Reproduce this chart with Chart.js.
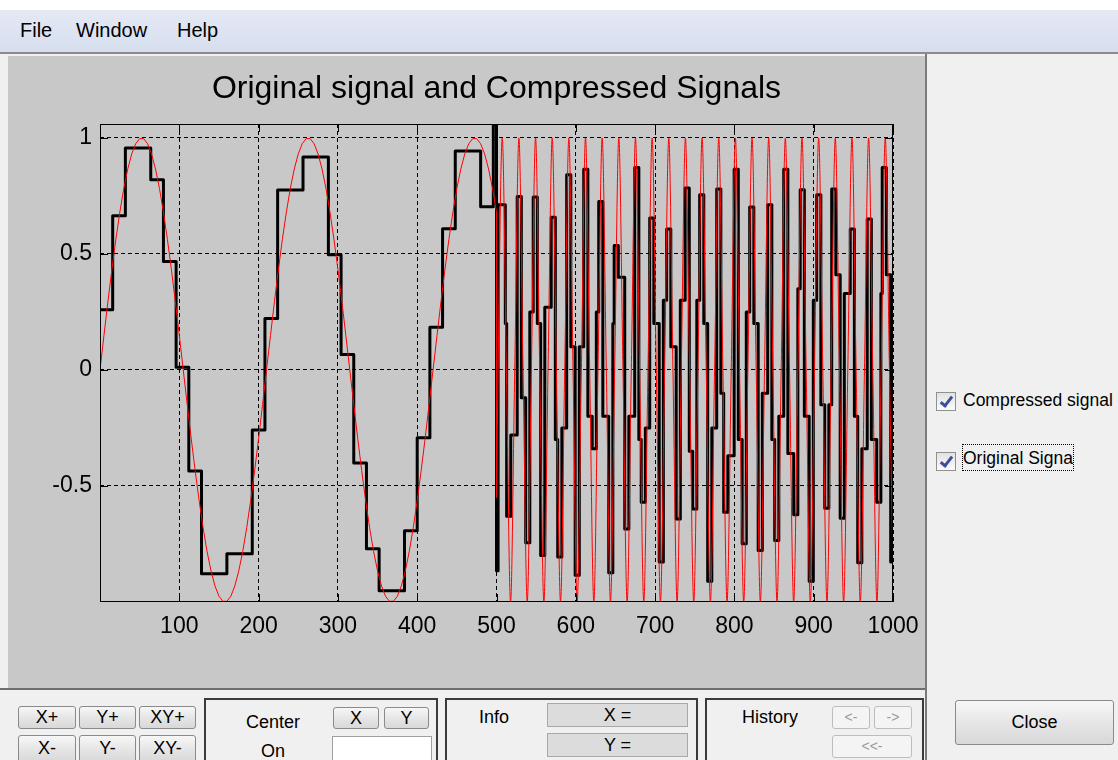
<!DOCTYPE html>
<html><head><meta charset="utf-8">
<script src="https://cdn.jsdelivr.net/npm/chart.js@4"></script>
<style>
html,body{margin:0;padding:0;}
body{width:1118px;height:760px;overflow:hidden;background:#f0f0f0;position:relative;font-family:'Liberation Sans',Arial,sans-serif;color:#000;}
.a{position:absolute;}
#topstrip{left:0;top:0;width:1118px;height:10px;background:#fff;}
#menubar{left:0;top:10px;width:1118px;height:42px;background:linear-gradient(#e4e9f4,#d6deee);border-bottom:2px solid #8c8c8c;}
.menu{position:absolute;top:10px;height:42px;line-height:40px;font-size:20px;}
#fig{left:8px;top:56px;width:917px;height:632px;background:#c8c8c8;}
#vline{left:925px;top:54px;width:2px;height:706px;background:#7a7a7a;}
#bottom{left:0;top:688px;width:925px;height:72px;background:#f0f0f0;border-top:2px solid #6e6e6e;box-sizing:border-box;}
.btn{position:absolute;box-sizing:border-box;border:1px solid #8a8a8a;border-radius:3px;background:linear-gradient(#f7f7f7,#e6e6e6 50%,#d8d8d8);text-align:center;font-size:18px;}
.frame{position:absolute;box-sizing:border-box;border:2px solid #3a3a3a;border-bottom:none;}
.lbl{position:absolute;font-size:18px;transform:translate(-50%,-50%);white-space:nowrap;}
.box{position:absolute;box-sizing:border-box;border:1px solid #a8a8a8;background:#dcdcdc;text-align:center;font-size:18px;}
.cb{position:absolute;width:20px;height:19px;box-sizing:border-box;border:1px solid #8f8f8f;background:linear-gradient(#e2e2e2,#fbfbfb);}
.cb::after{content:'';position:absolute;left:6px;top:1px;width:4px;height:10px;border:solid #3d4f9c;border-width:0 3px 3px 0;transform:rotate(38deg);}
.cbt{position:absolute;font-size:17.5px;white-space:nowrap;}
</style></head>
<body>
<div id="topstrip" class="a"></div>
<div id="menubar" class="a"></div>
<div class="menu" style="left:20px">File</div>
<div class="menu" style="left:76px">Window</div>
<div class="menu" style="left:177px">Help</div>
<div id="fig" class="a"><canvas id="c" width="917" height="632"></canvas></div>
<div id="vline" class="a"></div>
<div id="bottom" class="a"></div>

<div class="btn" style="left:18px;top:706px;width:58px;height:23px;line-height:21px">X+</div>
<div class="btn" style="left:79px;top:706px;width:57px;height:23px;line-height:21px">Y+</div>
<div class="btn" style="left:139px;top:706px;width:57px;height:23px;line-height:21px">XY+</div>
<div class="btn" style="left:18px;top:735px;width:58px;height:28px;line-height:25px">X-</div>
<div class="btn" style="left:79px;top:735px;width:57px;height:28px;line-height:25px">Y-</div>
<div class="btn" style="left:139px;top:735px;width:57px;height:28px;line-height:25px">XY-</div>

<div class="frame" style="left:204px;top:698px;width:234px;height:62px"></div>
<div class="lbl" style="left:273px;top:722px">Center</div>
<div class="lbl" style="left:273px;top:751px">On</div>
<div class="btn" style="left:333px;top:707px;width:46px;height:22px;line-height:20px">X</div>
<div class="btn" style="left:384px;top:707px;width:45px;height:22px;line-height:20px">Y</div>
<div class="a" style="left:332px;top:736px;width:100px;height:26px;background:#fff;border:1px solid #a0a0a0;box-sizing:border-box"></div>

<div class="frame" style="left:445px;top:698px;width:253px;height:62px"></div>
<div class="lbl" style="left:494px;top:717px">Info</div>
<div class="box" style="left:547px;top:703px;width:141px;height:24px;line-height:22px">X =</div>
<div class="box" style="left:547px;top:733px;width:141px;height:24px;line-height:22px">Y =</div>

<div class="frame" style="left:705px;top:698px;width:219px;height:62px"></div>
<div class="lbl" style="left:770px;top:717px">History</div>
<div class="btn" style="left:832px;top:706px;width:38px;height:23px;line-height:21px;color:#9a9a9a;font-size:14px;background:#f4f4f4;border-color:#bdbdbd">&lt;-</div>
<div class="btn" style="left:874px;top:706px;width:38px;height:23px;line-height:21px;color:#9a9a9a;font-size:14px;background:#f4f4f4;border-color:#bdbdbd">-&gt;</div>
<div class="btn" style="left:832px;top:735px;width:80px;height:23px;line-height:21px;color:#9a9a9a;font-size:14px;background:#f4f4f4;border-color:#bdbdbd">&lt;&lt;-</div>

<div class="btn" style="left:955px;top:700px;width:159px;height:45px;line-height:43px;font-size:18px">Close</div>

<div class="cb" style="left:936px;top:392px"></div>
<div class="cbt" style="left:963px;top:390px">Compressed signal</div>
<div class="cb" style="left:936px;top:452px"></div>
<div class="a" style="left:962px;top:444px;width:112px;height:27px;border:1px dotted #000;box-sizing:border-box;overflow:hidden"><div class="cbt" style="left:0px;top:3px">Original Signal</div></div>

<script>
// ---------- data ----------
const titleText = 'Original signal and Compressed Signals';
const xTickVals = [100,200,300,400,500,600,700,800,900,1000];
const yTickVals = [-0.5,0,0.5,1];

// original signal, first part (slow sine)
const origX1 = [0,5,10,15,20,25,30,35,40,45,50,55,60,65,70,75,80,85,90,95,100,
105,110,115,120,125,130,135,140,145,150,155,160,165,170,175,180,185,190,195,200,205,
210,215,220,225,230,235,240,245,250,255,260,265,270,275,280,285,290,295,300,305,310,
315,320,325,330,335,340,345,350,355,360,365,370,375,380,385,390,395,400,405,410,415,
420,425,430,435,440,445,450,455,460,465,470,475,480,485,490,495,500];
const origY1 = [0,0.149,0.295,0.434,0.563,0.680,0.782,0.866,0.931,0.975,0.997,0.997,0.975,0.931,0.866,0.782,0.680,0.563,0.434,0.295,0.149,
0,-0.149,-0.295,-0.434,-0.563,-0.680,-0.782,-0.866,-0.931,-0.975,-0.997,-0.997,-0.975,-0.931,-0.866,-0.782,-0.680,-0.563,-0.434,-0.295,-0.149,
0,0.149,0.295,0.434,0.563,0.680,0.782,0.866,0.931,0.975,0.997,0.997,0.975,0.931,0.866,0.782,0.680,0.563,0.434,0.295,0.149,
0,-0.149,-0.295,-0.434,-0.563,-0.680,-0.782,-0.866,-0.931,-0.975,-0.997,-0.997,-0.975,-0.931,-0.866,-0.782,-0.680,-0.563,-0.434,-0.295,-0.149,
0,0.149,0.295,0.434,0.563,0.680,0.782,0.866,0.931,0.975,0.997,0.997,0.975,0.931,0.866,0.782,0.680];

// original signal, second part (fast sine): zero / peak / zero / trough points
const origX2 = [500,
502,507.25,512.5,517.75, 523,528.25,533.5,538.75, 544,549.25,554.5,559.75, 565,570.25,575.5,580.75,
586,591.25,596.5,601.75, 607,612.25,617.5,622.75, 628,633.25,638.5,643.75, 649,654.25,659.5,664.75,
670,675.25,680.5,685.75, 691,696.25,701.5,706.75, 712,717.25,722.5,727.75, 733,738.25,743.5,748.75,
754,759.25,764.5,769.75, 775,780.25,785.5,790.75, 796,801.25,806.5,811.75, 817,822.25,827.5,832.75,
838,843.25,848.5,853.75, 859,864.25,869.5,874.75, 880,885.25,890.5,895.75, 901,906.25,911.5,916.75,
922,927.25,932.5,937.75, 943,948.25,953.5,958.75, 964,969.25,974.5,979.75, 985,990.25,995.5,1000.75];
const origY2 = [-0.55,
0,1,0,-1, 0,1,0,-1, 0,1,0,-1, 0,1,0,-1, 0,1,0,-1, 0,1,0,-1, 0,1,0,-1, 0,1,0,-1,
0,1,0,-1, 0,1,0,-1, 0,1,0,-1, 0,1,0,-1, 0,1,0,-1, 0,1,0,-1, 0,1,0,-1, 0,1,0,-1,
0,1,0,-1, 0,1,0,-1, 0,1,0,-1, 0,1,0,-1, 0,1,0,-1, 0,1,0,-1, 0,1,0,-1, 0,1,0,-1];

// compressed signal, first part: block start and held level
const compX1 = [0,16,32,64,80,96,112,128,160,192,208,224,256,288,304,320,336,352,384,400,416,432,448,480,496,500];
const compY1 = [0.26,0.665,0.957,0.82,0.467,0.012,-0.435,-0.878,-0.792,-0.259,0.222,0.776,0.918,0.497,0.067,-0.401,-0.771,-0.952,-0.693,-0.292,0.184,0.609,0.944,0.703,1.06,-0.865];

// compressed signal, second part: per cycle held levels
const peakX = [502,526.1,546.3,569.0,588.5,610.0,628.9,648.4,674.3,693.2,714.6,737.9,756.2,777.7,799.7,819.3,842.0,862.2,883.0,903.8,922.7,946.1,967.5,986.4];
const peakY = [0.712,0.748,0.745,0.658,0.841,0.865,0.726,0.536,0.872,0.655,0.608,0.784,0.755,0.78,0.865,0.702,0.712,0.865,0.777,0.755,0.78,0.608,0.651,0.872];
const fallX = [511.1,531.3,551.5,574.2,593.7,615.2,634.1,653.6,679.5,698.4,719.8,743.1,761.4,782.9,804.9,824.5,847.2,867.4,888.2,909.0,927.9,951.3,972.7,991.6];
const fallY = [0.2,-0.12,0.2,-0.3,0.1,-0.2,-0.2,0.4,-0.3,0.2,0.1,-0.35,0.2,-0.1,-0.3,0.2,-0.3,-0.36,-0.2,-0.15,0.41,-0.2,-0.3,0.41];
const troughX = [512.8,536.8,555.7,577.2,599.2,620.7,641.5,661.7,682.5,705.2,726.6,747.4,766.3,786.5,809.8,830.0,850.8,874.8,894.3,913.9,933.4,955.5,979.5,997.1];
const troughY = [-0.63,-0.745,-0.80,-0.806,-0.885,-0.34,-0.874,-0.685,-0.57,-0.828,-0.642,-0.599,-0.911,-0.613,-0.749,-0.778,-0.735,-0.624,-0.911,-0.596,-0.639,-0.831,-0.57,-0.828];
const riseX = [518.0,542.0,560.9,582.4,604.4,625.9,646.7,666.9,687.7,710.4,731.8,752.6,771.5,791.7,815.0,835.2,856.0,880.0,899.5,919.1,938.6,960.7,984.7];
const riseY = [-0.28,0.25,0.27,-0.25,0.1,0.25,0.2,-0.2,-0.25,0.3,0.3,0.3,-0.25,-0.37,0.25,-0.1,-0.2,0.35,0.3,-0.15,0.33,-0.34,0.33];
const xEnd = 1000;

// ---------- build ----------
const FONT = "'Liberation Sans',Arial,sans-serif";
const orig1 = origX1.map((x,i)=>({x, y:origY1[i]}));
orig1.push({x:origX2[0], y:origY2[0]});
const orig2 = origX2.map((x,i)=>({x, y:origY2[i]}));
const comp = compX1.map((x,i)=>({x, y:compY1[i]}));
for (let i=0;i<peakX.length;i++){
  comp.push({x:peakX[i],y:peakY[i]});
  comp.push({x:fallX[i],y:fallY[i]});
  comp.push({x:troughX[i],y:troughY[i]});
  if (i<riseX.length) comp.push({x:riseX[i],y:riseY[i]});
}
comp.push({x:xEnd, y:comp[comp.length-1].y});

const frame = {
  id:'frame',
  afterDatasetsDraw(chart){
    const {ctx, chartArea:a, scales:{x,y}} = chart;
    ctx.save();
    ctx.strokeStyle='#000'; ctx.lineWidth=1;
    ctx.strokeRect(Math.round(a.left)+0.5, Math.round(a.top)+0.5, Math.round(a.width)-1, Math.round(a.height)-1);
    ctx.beginPath();
    xTickVals.forEach(v=>{const p=Math.round(x.getPixelForValue(v))+0.5;
      ctx.moveTo(p,a.bottom); ctx.lineTo(p,a.bottom-8); ctx.moveTo(p,a.top); ctx.lineTo(p,a.top+8);});
    yTickVals.forEach(v=>{const p=Math.round(y.getPixelForValue(v))+0.5;
      ctx.moveTo(a.left,p); ctx.lineTo(a.left+8,p); ctx.moveTo(a.right,p); ctx.lineTo(a.right-8,p);});
    ctx.stroke();
    ctx.restore();
  }
};

new Chart(document.getElementById('c'), {
  type:'line',
  data:{datasets:[
    {label:'Compressed signal', data:comp, borderColor:'#000', borderWidth:3, stepped:'before', pointRadius:0, fill:false, order:1, borderJoinStyle:'round', borderCapStyle:'round'},
    {label:'Original Signal', data:orig1, borderColor:'#ff0000', borderWidth:1, pointRadius:0, fill:false, tension:0, order:0},
    {label:'Original Signal', data:orig2, borderColor:'#ff0000', borderWidth:1, pointRadius:0, fill:false, cubicInterpolationMode:'monotone', order:0}
  ]},
  options:{
    responsive:false, animation:false, devicePixelRatio:1,
    layout:{padding:{left:0,right:32,top:0,bottom:0}},
    plugins:{legend:{display:false}, tooltip:{enabled:false},
      title:{display:true, fullSize:false, text:titleText, color:'#000', font:{family:FONT,size:32,weight:'normal',lineHeight:1.2}, padding:{top:13.6,bottom:16}}},
    scales:{
      x:{type:'linear', min:0, max:1000,
        afterBuildTicks:s=>{s.ticks = xTickVals.map(v=>({value:v}));},
        afterFit:s=>{s.height=86; s.paddingLeft=0; s.paddingRight=0;},
        grid:{color:'#000', lineWidth:1, drawTicks:false},
        border:{display:false, dash:[4,3]},
        ticks:{color:'#000', font:{family:FONT,size:23}, padding:11, maxRotation:0, autoSkip:false, callback:v=>String(v)}},
      y:{type:'linear', min:-1, max:1.06,
        afterBuildTicks:s=>{s.ticks = yTickVals.map(v=>({value:v}));},
        afterFit:s=>{s.width=92; s.paddingTop=0; s.paddingBottom=0;},
        grid:{color:'#000', lineWidth:1, drawTicks:false},
        border:{display:false, dash:[4,3]},
        ticks:{color:'#000', font:{family:FONT,size:23}, padding:8, autoSkip:false, callback:v=>String(v)}}
    }
  },
  plugins:[frame]
});
</script>
</body></html>
